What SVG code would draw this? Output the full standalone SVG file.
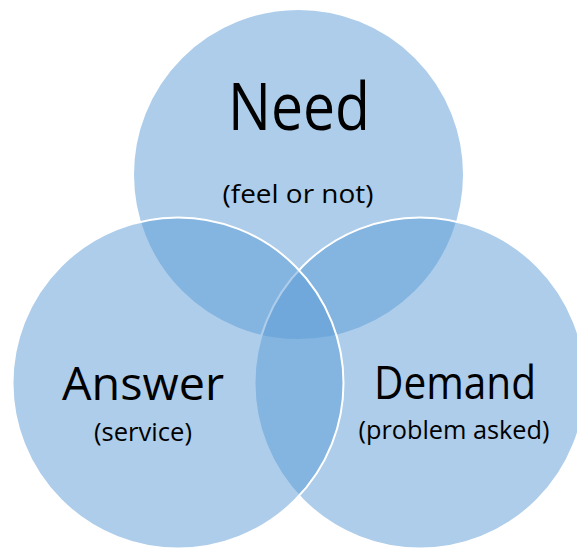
<svg xmlns="http://www.w3.org/2000/svg" width="577" height="548" viewBox="0 0 577 548">
  <style>
    .c { fill: #5B9BD5; fill-opacity: 0.5; stroke: #FFFFFF; stroke-width: 2; }
    .t { font-family: "Open Sans", "Noto Sans", "Liberation Sans", sans-serif; fill: #000000; text-anchor: middle; }
  </style>
  <rect width="577" height="548" fill="#FFFFFF"/>
  <g id="need">
    <circle class="c" cx="298.5" cy="174.5" r="165.5"/>
    <text class="t" x="299" y="130" font-size="65" textLength="142" lengthAdjust="spacingAndGlyphs">Need</text>
    <text class="t" x="298" y="203" font-size="26" textLength="151" lengthAdjust="spacingAndGlyphs">(feel or not)</text>
  </g>
  <g id="demand">
    <circle class="c" cx="420" cy="383" r="165.5"/>
    <text class="t" x="455" y="399" font-size="46" textLength="162" lengthAdjust="spacingAndGlyphs">Demand</text>
    <text class="t" x="454" y="439" font-size="26" textLength="191" lengthAdjust="spacingAndGlyphs">(problem asked)</text>
  </g>
  <g id="answer">
    <circle class="c" cx="178" cy="383" r="165.5"/>
    <text class="t" x="143" y="399.5" font-size="46" textLength="162" lengthAdjust="spacingAndGlyphs">Answer</text>
    <text class="t" x="143" y="441" font-size="26" textLength="98" lengthAdjust="spacingAndGlyphs">(service)</text>
  </g>
  <g id="connectors"/>
</svg>
